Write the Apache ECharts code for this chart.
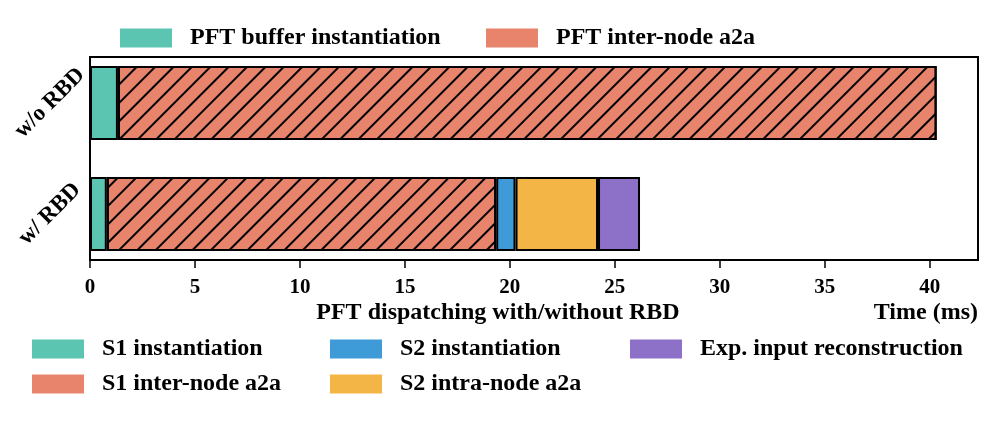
<!DOCTYPE html>
<html>
<head>
<meta charset="utf-8">
<script src="https://cdn.jsdelivr.net/npm/echarts@6/dist/echarts.min.js"></script>
<style>
html,body{margin:0;padding:0;background:#fff;}
#chart{width:996px;height:423px;}
</style>
</head>
<body>
<div id="chart"></div>
<script>
// ---- data ----
const categories = ['w/o RBD', 'w/ RBD'];
const seriesNames = [
  'PFT buffer instantiation',
  'PFT inter-node a2a',
  'S1 instantiation',
  'S1 inter-node a2a',
  'S2 instantiation',
  'S2 intra-node a2a',
  'Exp. input reconstruction'
];
const pftBufferInst = [1.33, '-'];
const pftInterA2a   = [39.0, '-'];
const s1Inst        = ['-', 0.80];
const s1InterA2a    = ['-', 18.55];
const s2Inst        = ['-', 0.92];
const s2IntraA2a    = ['-', 3.93];
const expInputRecon = ['-', 2.0];
const seriesData = [pftBufferInst, pftInterA2a, s1Inst, s1InterA2a, s2Inst, s2IntraA2a, expInputRecon];
const xTicks = [0, 5, 10, 15, 20, 25, 30, 35, 40];
const xMax = 42.3;

// ---- styles ----
const colors = ['#5BC5B2', '#E8846C', '#5BC5B2', '#E8846C', '#3F9AD8', '#F3B545', '#8D71C8'];
const hatched = [false, true, false, true, false, false, false];
const FONT = 'Liberation Serif';

const hatch = {
  symbol: 'rect',
  symbolSize: 1,
  color: '#000',
  dashArrayX: [1, 0],
  dashArrayY: [2, 11],
  rotation: -Math.PI / 4
};

const series = seriesNames.map((name, i) => ({
  name: name,
  type: 'bar',
  stack: 'total',
  xAxisIndex: 1,
  yAxisIndex: 1,
  barWidth: 74,
  data: seriesData[i],
  itemStyle: Object.assign({
    color: colors[i],
    borderColor: '#000',
    borderWidth: 2
  }, hatched[i] ? { decal: hatch } : {}),
  emphasis: { disabled: true }
}));

const legendPos = [
  { name: seriesNames[0], left: 120, top: 26 },
  { name: seriesNames[1], left: 486, top: 26 },
  { name: seriesNames[2], left: 32, top: 337 },
  { name: seriesNames[3], left: 32, top: 372 },
  { name: seriesNames[4], left: 330, top: 337 },
  { name: seriesNames[5], left: 330, top: 372 },
  { name: seriesNames[6], left: 630, top: 337 }
];
const legends = legendPos.map(p => ({
  data: [{ name: p.name, itemStyle: { decal: 'none', borderWidth: 0 } }],
  left: p.left,
  top: p.top,
  padding: 0,
  itemWidth: 52,
  itemHeight: 19,
  icon: 'rect',
  selectedMode: false,
  itemStyle: { borderWidth: 0, decal: 'none' },
  textStyle: {
    fontFamily: FONT, fontWeight: 'bold', fontSize: 24, color: '#000',
    padding: [0, 0, 0, 13]
  }
}));

const chart = echarts.init(document.getElementById('chart'));
chart.setOption({
  animation: false,
  backgroundColor: '#fff',
  legend: legends,
  grid: [
    { left: 90, right: 18, top: 57, height: 203,
      show: true, borderColor: '#000', borderWidth: 2, containLabel: false },
    { left: 90, right: 18, top: 47.5, height: 222, containLabel: false }
  ],
  xAxis: [
    {
      gridIndex: 0,
      type: 'value',
      min: 0,
      max: xMax,
      interval: 5,
      splitLine: { show: false },
      axisLine: { show: true, lineStyle: { color: '#000', width: 2 } },
      axisTick: { show: true, length: 8, lineStyle: { color: '#000', width: 1.5 } },
      axisLabel: {
        showMaxLabel: false,
        margin: 17,
        fontFamily: FONT, fontWeight: 'bold', fontSize: 21, color: '#000',
        formatter: v => (xTicks.indexOf(v) >= 0 ? String(v) : '')
      }
    },
    {
      gridIndex: 1,
      type: 'value',
      min: 0,
      max: xMax,
      show: false
    }
  ],
  yAxis: [
    {
      gridIndex: 0,
      type: 'value',
      min: 0, max: 1,
      show: false
    },
    {
      gridIndex: 1,
      type: 'category',
      inverse: true,
      data: categories,
      axisLine: { show: false },
      axisTick: { show: false },
      axisLabel: {
        rotate: 45,
        align: 'center',
        verticalAlign: 'middle',
        margin: 40,
        fontFamily: FONT, fontWeight: 'bold', fontSize: 23, color: '#000'
      }
    }
  ],
  graphic: [
    {
      type: 'text', left: 'center', top: 301,
      style: { text: 'PFT dispatching with/without RBD', font: 'bold 24px "Liberation Serif"', fill: '#000' }
    },
    {
      type: 'text', right: 18, top: 301,
      style: { text: 'Time (ms)', font: 'bold 24px "Liberation Serif"', fill: '#000' }
    }
  ],
  series: series
});
</script>
</body>
</html>
